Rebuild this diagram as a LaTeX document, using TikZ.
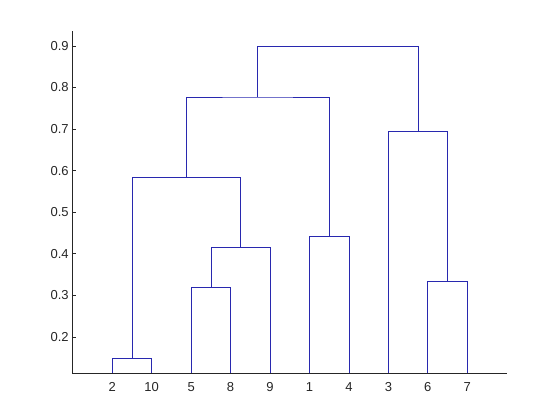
\documentclass[tikz,border=0pt]{standalone}
\usepackage{fontspec}
\setmainfont{Liberation Sans}
\usepackage{tikz}
\usetikzlibrary{positioning}
\definecolor{dendro}{RGB}{40,40,175}

\begin{document}
\begin{tikzpicture}[x=39.45pt,y=415.7pt,
  lien/.style={draw=dendro, line width=0.75pt},
  axe/.style={draw=black!85, line width=0.6pt},
  grad/.style={font=\fontsize{13}{15}\selectfont, text=black!85, inner sep=0pt}]
  \useasboundingbox (-72.8pt,0pt) rectangle (487.2pt,420pt);
  % axes
  \coordinate (haut) at (0,0.9346);
  \coordinate (coin) at (0,0.1119);
  \coordinate (fin) at (11,0.1119);
  \draw[axe] (haut) -- (coin) -- (fin);
  \foreach \v [count=\k] in {0.2,0.3,0.4,0.5,0.6,0.7,0.8,0.9} {
    \coordinate (t\k) at (0,\v);
    \draw[axe] (t\k) -- ++(3.5pt,0);
    \node[grad, anchor=east, left=4pt of t\k] (g\k) {\v};
  }
  % feuilles
  \foreach \l [count=\i] in {2,10,5,8,9,1,4,3,6,7} {
    \coordinate (f\l) at (\i,0.1119);
    \node[grad, anchor=base] (e\l) at (\i,0.0695) {\l};
  }
  % fusions (hauteur)
  \coordinate (m1) at (1.5,0.148);
  \coordinate (m2) at (3.5,0.320);
  \coordinate (m3) at (4.25,0.415);
  \coordinate (m4) at (2.875,0.583);
  \coordinate (m5) at (6.5,0.4415);
  \coordinate (m6) at (4.6875,0.777);
  \coordinate (m7) at (9.5,0.334);
  \coordinate (m8) at (8.75,0.695);
  \coordinate (m9) at (6.71875,0.898);
  % liens
  \foreach \a/\m/\b in {f2/m1/f10, f5/m2/f8, m2/m3/f9, m1/m4/m3, f1/m5/f4,
                        m4/m6/m5, f6/m7/f7, f3/m8/m7, m6/m9/m8}
    \draw[lien] (\a) |- (\m) -| (\b);
\end{tikzpicture}
\end{document}
